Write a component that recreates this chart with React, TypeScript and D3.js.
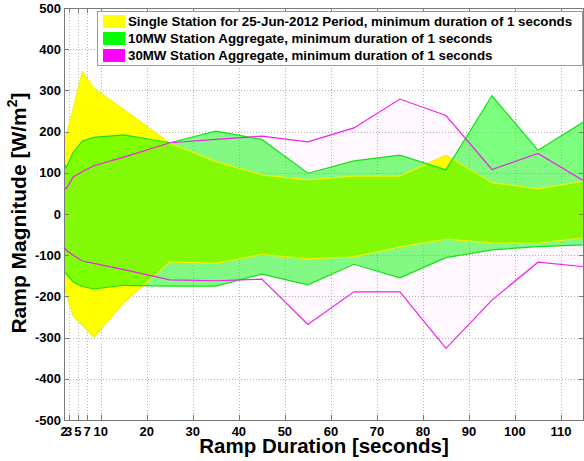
import React from "react";
import * as d3 from "d3";

const durations = [2, 2.5, 4, 6, 8.5, 15, 25, 35, 45, 55, 65, 75, 85, 95, 105, 115];
const singleUpper = [180, 192, 255, 345, 305, 253, 172, 127, 95, 83, 92, 92, 143, 76, 61, 80];
const singleLower = [-170, -195, -248, -270, -299, -215, -116, -120, -98, -109, -104, -80, -61, -70, -71, -57];
const mw10Upper = [124, 113, 150, 177, 186, 192, 173, 201, 181, 99, 129, 143, 107, 287, 155, 224];
const mw10Lower = [-140, -145, -165, -176, -182, -173, -175, -175, -146, -172, -122, -155, -106, -87, -79, -75];
const mw30Upper = [64, 62, 90, 103, 117, 138, 173, 181, 189, 175, 209, 279, 239, 108, 147, 80];
const mw30Lower = [-80, -88, -100, -114, -120, -135, -160, -162, -158, -268, -189, -189, -326, -209, -117, -128];

const xTicks = [2, 3, 5, 7, 10, 20, 30, 40, 50, 60, 70, 80, 90, 100, 110];
const yTicks = [-500, -400, -300, -200, -100, 0, 100, 200, 300, 400, 500];

const legendLabels = [
  "Single Station for 25-Jun-2012 Period, minimum duration of 1 seconds",
  "10MW Station Aggregate, minimum duration of 1 seconds",
  "30MW Station Aggregate, minimum duration of 1 seconds",
];

const W = 584;
const H = 461;
const L = 64, R = 584, T = 8, B = 420;
const FONT = "'Liberation Sans', Arial, sans-serif";

export default function App() {
  const x = d3.scaleLinear().domain([2, 115]).range([L, R]);
  const y = d3.scaleLinear().domain([-500, 500]).range([B, T]);

  const band = (hi: number[], lo: number[]) =>
    d3
      .area<number>()
      .x((d) => x(durations[d]))
      .y0((d) => y(lo[d]))
      .y1((d) => y(hi[d]))(d3.range(durations.length)) as string;

  const outline = (hi: number[], lo: number[]) => {
    const pts: [number, number][] = [];
    durations.forEach((d, i) => pts.push([x(d), y(hi[i])]));
    for (let i = durations.length - 1; i >= 0; i--) pts.push([x(durations[i]), y(lo[i])]);
    return (d3.line()(pts) as string) + "Z";
  };

  const series = [
    { hi: singleUpper, lo: singleLower, color: "#ffff00", op: 1, stroke: "#f2f200" },
    { hi: mw10Upper, lo: mw10Lower, color: "#00ff00", op: 0.5, stroke: "#16e016" },
    { hi: mw30Upper, lo: mw30Lower, color: "#ff00ff", op: 0.025, stroke: "#f020f0" },
  ];

  return (
    <div style={{ position: "absolute", left: 0, top: 0 }}>
      <svg width={W} height={H} style={{ display: "block", background: "#fff" }} fontFamily={FONT}>
        <defs>
          <clipPath id="plot">
            <rect x={L} y={T} width={R - L} height={B - T} />
          </clipPath>
        </defs>
        <rect x={0} y={0} width={W} height={H} fill="#fff" />
        {/* grid */}
        <g stroke="#b4b4b4" strokeWidth={1} strokeDasharray="1,2">
          {xTicks.slice(1).map((t) => (
            <line key={"gx" + t} x1={Math.round(x(t)) + 0.5} x2={Math.round(x(t)) + 0.5} y1={T} y2={B} />
          ))}
          {yTicks.slice(1, -1).map((t) => (
            <line key={"gy" + t} x1={L} x2={R} y1={Math.round(y(t)) + 0.5} y2={Math.round(y(t)) + 0.5} />
          ))}
        </g>
        <g clipPath="url(#plot)">
          {series.map((s, i) => (
            <path key={"f" + i} d={band(s.hi, s.lo)} fill={s.color} fillOpacity={s.op} stroke="none" />
          ))}
          {series.map((s, i) => (
            <path key={"s" + i} d={outline(s.hi, s.lo)} fill="none" stroke={s.stroke} strokeWidth={1.2} />
          ))}
        </g>
        {/* axes box */}
        <g stroke="#7a7a7a" strokeWidth={1} fill="none">
          <line x1={L + 0.5} x2={L + 0.5} y1={T} y2={B + 0.5} />
          <line x1={L} x2={R} y1={B + 0.5} y2={B + 0.5} />
          <line x1={L} x2={R} y1={T + 0.5} y2={T + 0.5} />
          <line x1={R - 0.5} x2={R - 0.5} y1={T} y2={B} />
          {xTicks.map((t) => (
            <g key={"tx" + t}>
              <line x1={Math.round(x(t)) + 0.5} x2={Math.round(x(t)) + 0.5} y1={B} y2={B - 5} />
              <line x1={Math.round(x(t)) + 0.5} x2={Math.round(x(t)) + 0.5} y1={T} y2={T + 5} />
            </g>
          ))}
          {yTicks.map((t) => (
            <g key={"ty" + t}>
              <line x1={L} x2={L + 5} y1={Math.round(y(t)) + 0.5} y2={Math.round(y(t)) + 0.5} />
              <line x1={R - 5} x2={R} y1={Math.round(y(t)) + 0.5} y2={Math.round(y(t)) + 0.5} />
            </g>
          ))}
        </g>
        {/* tick labels */}
        <g fontSize={13} fontWeight="bold" fill="#000">
          {yTicks.map((t) => (
            <text key={"ly" + t} x={61} y={y(t) + 4.5} textAnchor="end">
              {t}
            </text>
          ))}
          {xTicks.map((t) => (
            <text key={"lx" + t} x={x(t)} y={435.5} textAnchor="middle">
              {t}
            </text>
          ))}
        </g>
        {/* axis titles */}
        <text x={(L + R) / 2} y={452.5} textAnchor="middle" fontSize={20.5} fontWeight="bold">
          Ramp Duration [seconds]
        </text>
        <text transform={`translate(26,213) rotate(-90)`} textAnchor="middle" fontSize={21} fontWeight="bold">
          Ramp Magnitude [W/m
          <tspan fontSize={14} dy={-9}>2</tspan>
          <tspan dy={9}>]</tspan>
        </text>
        {/* legend */}
        <rect x={97.5} y={11.5} width={485} height={54} fill="#fff" stroke="#9a9a9a" strokeWidth={1} />
        {series.map((s, i) => (
          <g key={"lg" + i}>
            <rect x={103} y={15 + i * 17} width={22} height={13} fill={s.color} />
            <text x={128} y={26 + i * 17} fontSize={13.3} fontWeight="bold">
              {legendLabels[i]}
            </text>
          </g>
        ))}
      </svg>
    </div>
  );
}
